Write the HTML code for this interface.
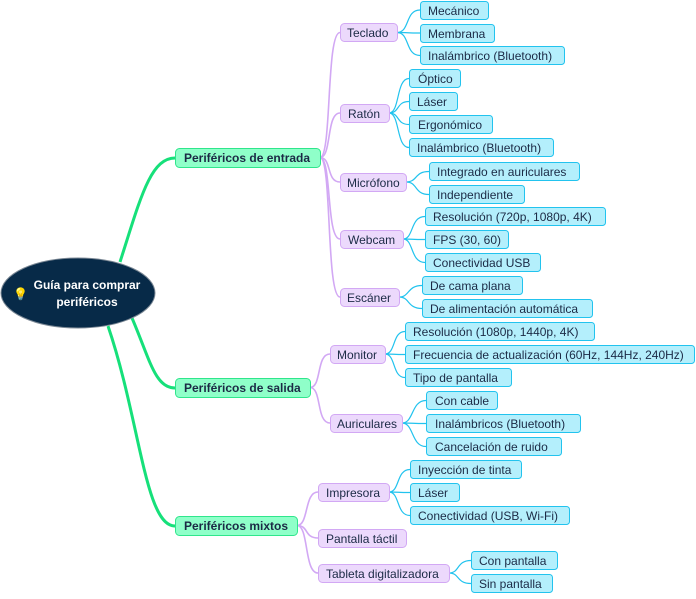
<!DOCTYPE html>
<html><head><meta charset="utf-8"><style>
body{margin:0;background:#fff;width:696px;height:594px;overflow:hidden}
svg text{font-family:"Liberation Sans",sans-serif;font-size:12px;fill:#1b2a45}
.l1{fill:#8fffc9;stroke:#2fe68c}
.l2{fill:#ecd9fc;stroke:#d2a8f4}
.lf{fill:#b4effc;stroke:#22c3ee}
.g{stroke:#16e07a;stroke-width:3;fill:none}
.p{stroke:#d2a8f4;stroke-width:1.6;fill:none}
.c{stroke:#22c3ee;stroke-width:1.2;fill:none}
</style></head><body>
<svg width="696" height="594" viewBox="0 0 696 594">
<path class="g" d="M120,262 C140,200 150,158 175,158"/>
<path class="g" d="M132,318 C150,360 155,388 175,388"/>
<path class="g" d="M108,326 C140,420 145,526 175,526"/>
<g class="p">
<path d="M320,157.5 C332,157.5 326,32.5 340,32.5"/>
<path d="M320,157.5 C332,157.5 326,113 340,113"/>
<path d="M320,157.5 C332,157.5 326,182 340,182"/>
<path d="M320,157.5 C332,157.5 326,239 340,239"/>
<path d="M320,157.5 C332,157.5 326,297 340,297"/>
<path d="M310,387.5 C322,387.5 316,354 330,354"/>
<path d="M310,387.5 C322,387.5 316,423 330,423"/>
<path d="M297,525.5 C309,525.5 304,492 318,492"/>
<path d="M297,525.5 C309,525.5 304,538 318,538"/>
<path d="M297,525.5 C309,525.5 304,573 318,573"/>
</g>
<g class="c">
<path d="M397,32.5 C410,32.5 405,10 420,10"/><path d="M397,32.5 C410,32.5 405,33 420,33"/><path d="M397,32.5 C410,32.5 405,55.5 420,55.5"/>
<path d="M389,113 C400,113 396,78.5 409,78.5"/><path d="M389,113 C400,113 396,101.5 409,101.5"/><path d="M389,113 C400,113 396,124.5 409,124.5"/><path d="M389,113 C400,113 396,147.5 409,147.5"/>
<path d="M406,182 C418,182 414,171.5 429,171.5"/><path d="M406,182 C418,182 414,194.5 429,194.5"/>
<path d="M403,239 C414,239 410,216.5 425,216.5"/><path d="M403,239 C414,239 410,239.5 425,239.5"/><path d="M403,239 C414,239 410,262.5 425,262.5"/>
<path d="M399,297 C410,297 407,285.5 422,285.5"/><path d="M399,297 C410,297 407,308.5 422,308.5"/>
<path d="M385,354 C396,354 392,331.5 405,331.5"/><path d="M385,354 C396,354 392,354.5 405,354.5"/><path d="M385,354 C396,354 392,377.5 405,377.5"/>
<path d="M402,423 C414,423 411,400.5 426,400.5"/><path d="M402,423 C414,423 411,423.5 426,423.5"/><path d="M402,423 C414,423 411,446.5 426,446.5"/>
<path d="M389,492 C400,492 396,469.5 410,469.5"/><path d="M389,492 C400,492 396,492.5 410,492.5"/><path d="M389,492 C400,492 396,515.5 410,515.5"/>
<path d="M449,573 C460,573 456,560.5 471,560.5"/><path d="M449,573 C460,573 456,583.5 471,583.5"/>
</g>
<ellipse cx="78" cy="293" rx="77" ry="35" fill="#072a48" stroke="#7a8794" stroke-width="1"/>
<text x="13" y="298" style="font-size:12px;fill:#ffd43b">💡</text>
<text x="87" y="289" text-anchor="middle" style="fill:#fff;font-weight:bold">Guía para comprar</text>
<text x="87" y="306" text-anchor="middle" style="fill:#fff;font-weight:bold">periféricos</text>
<rect class="l1" x="175.5" y="148.5" width="145" height="19" rx="4"/><text x="184" y="162" style="font-weight:bold">Periféricos de entrada</text>
<rect class="l1" x="175.5" y="378.5" width="135" height="19" rx="4"/><text x="184" y="392" style="font-weight:bold">Periféricos de salida</text>
<rect class="l1" x="175.5" y="516.5" width="122" height="19" rx="4"/><text x="184" y="530" style="font-weight:bold">Periféricos mixtos</text>
<rect class="l2" x="340.5" y="23.5" width="57" height="18" rx="4"/><text x="347" y="37">Teclado</text>
<rect class="l2" x="340.5" y="104.5" width="49" height="18" rx="4"/><text x="348" y="118">Ratón</text>
<rect class="l2" x="340.5" y="173.5" width="66" height="18" rx="4"/><text x="347" y="187">Micrófono</text>
<rect class="l2" x="340.5" y="230.5" width="63" height="18" rx="4"/><text x="348" y="244">Webcam</text>
<rect class="l2" x="340.5" y="288.5" width="59" height="18" rx="4"/><text x="347" y="302">Escáner</text>
<rect class="l2" x="330.5" y="345.5" width="55" height="18" rx="4"/><text x="337" y="359">Monitor</text>
<rect class="l2" x="330.5" y="414.5" width="72" height="18" rx="4"/><text x="337" y="428">Auriculares</text>
<rect class="l2" x="318.5" y="483.5" width="71" height="18" rx="4"/><text x="326" y="497">Impresora</text>
<rect class="l2" x="318.5" y="529.5" width="88" height="18" rx="4"/><text x="326" y="543">Pantalla táctil</text>
<rect class="l2" x="318.5" y="564.5" width="131" height="18" rx="4"/><text x="326" y="578">Tableta digitalizadora</text>
<g>
<rect class="lf" x="420.5" y="1.5" width="68" height="18" rx="3"/><text x="428" y="15">Mecánico</text>
<rect class="lf" x="420.5" y="24.5" width="74" height="18" rx="3"/><text x="428" y="38">Membrana</text>
<rect class="lf" x="420.5" y="46.5" width="144" height="18" rx="3"/><text x="428" y="60">Inalámbrico (Bluetooth)</text>
<rect class="lf" x="409.5" y="69.5" width="51" height="18" rx="3"/><text x="418" y="83">Óptico</text>
<rect class="lf" x="409.5" y="92.5" width="48" height="18" rx="3"/><text x="417" y="106">Láser</text>
<rect class="lf" x="409.5" y="115.5" width="83" height="18" rx="3"/><text x="418" y="129">Ergonómico</text>
<rect class="lf" x="409.5" y="138.5" width="144" height="18" rx="3"/><text x="417" y="152">Inalámbrico (Bluetooth)</text>
<rect class="lf" x="429.5" y="162.5" width="150" height="18" rx="3"/><text x="437" y="176">Integrado en auriculares</text>
<rect class="lf" x="429.5" y="185.5" width="95" height="18" rx="3"/><text x="437" y="199">Independiente</text>
<rect class="lf" x="425.5" y="207.5" width="180" height="18" rx="3"/><text x="433" y="221">Resolución (720p, 1080p, 4K)</text>
<rect class="lf" x="425.5" y="230.5" width="83" height="18" rx="3"/><text x="433" y="244">FPS (30, 60)</text>
<rect class="lf" x="425.5" y="253.5" width="115" height="18" rx="3"/><text x="433" y="267">Conectividad USB</text>
<rect class="lf" x="422.5" y="276.5" width="100" height="18" rx="3"/><text x="430" y="290">De cama plana</text>
<rect class="lf" x="422.5" y="299.5" width="170" height="18" rx="3"/><text x="430" y="313">De alimentación automática</text>
<rect class="lf" x="405.5" y="322.5" width="189" height="18" rx="3"/><text x="413" y="336">Resolución (1080p, 1440p, 4K)</text>
<rect class="lf" x="405.5" y="345.5" width="289" height="18" rx="3"/><text x="413" y="359">Frecuencia de actualización (60Hz, 144Hz, 240Hz)</text>
<rect class="lf" x="405.5" y="368.5" width="106" height="18" rx="3"/><text x="413" y="382">Tipo de pantalla</text>
<rect class="lf" x="426.5" y="391.5" width="71" height="18" rx="3"/><text x="435" y="405">Con cable</text>
<rect class="lf" x="426.5" y="414.5" width="154" height="18" rx="3"/><text x="435" y="428">Inalámbricos (Bluetooth)</text>
<rect class="lf" x="426.5" y="437.5" width="135" height="18" rx="3"/><text x="435" y="451">Cancelación de ruido</text>
<rect class="lf" x="410.5" y="460.5" width="111" height="18" rx="3"/><text x="418" y="474">Inyección de tinta</text>
<rect class="lf" x="410.5" y="483.5" width="49" height="18" rx="3"/><text x="418" y="497">Láser</text>
<rect class="lf" x="410.5" y="506.5" width="159" height="18" rx="3"/><text x="418" y="520">Conectividad (USB, Wi-Fi)</text>
<rect class="lf" x="471.5" y="551.5" width="86" height="18" rx="3"/><text x="479" y="565">Con pantalla</text>
<rect class="lf" x="471.5" y="574.5" width="81" height="18" rx="3"/><text x="479" y="588">Sin pantalla</text>
</g>
</svg>
</body></html>
